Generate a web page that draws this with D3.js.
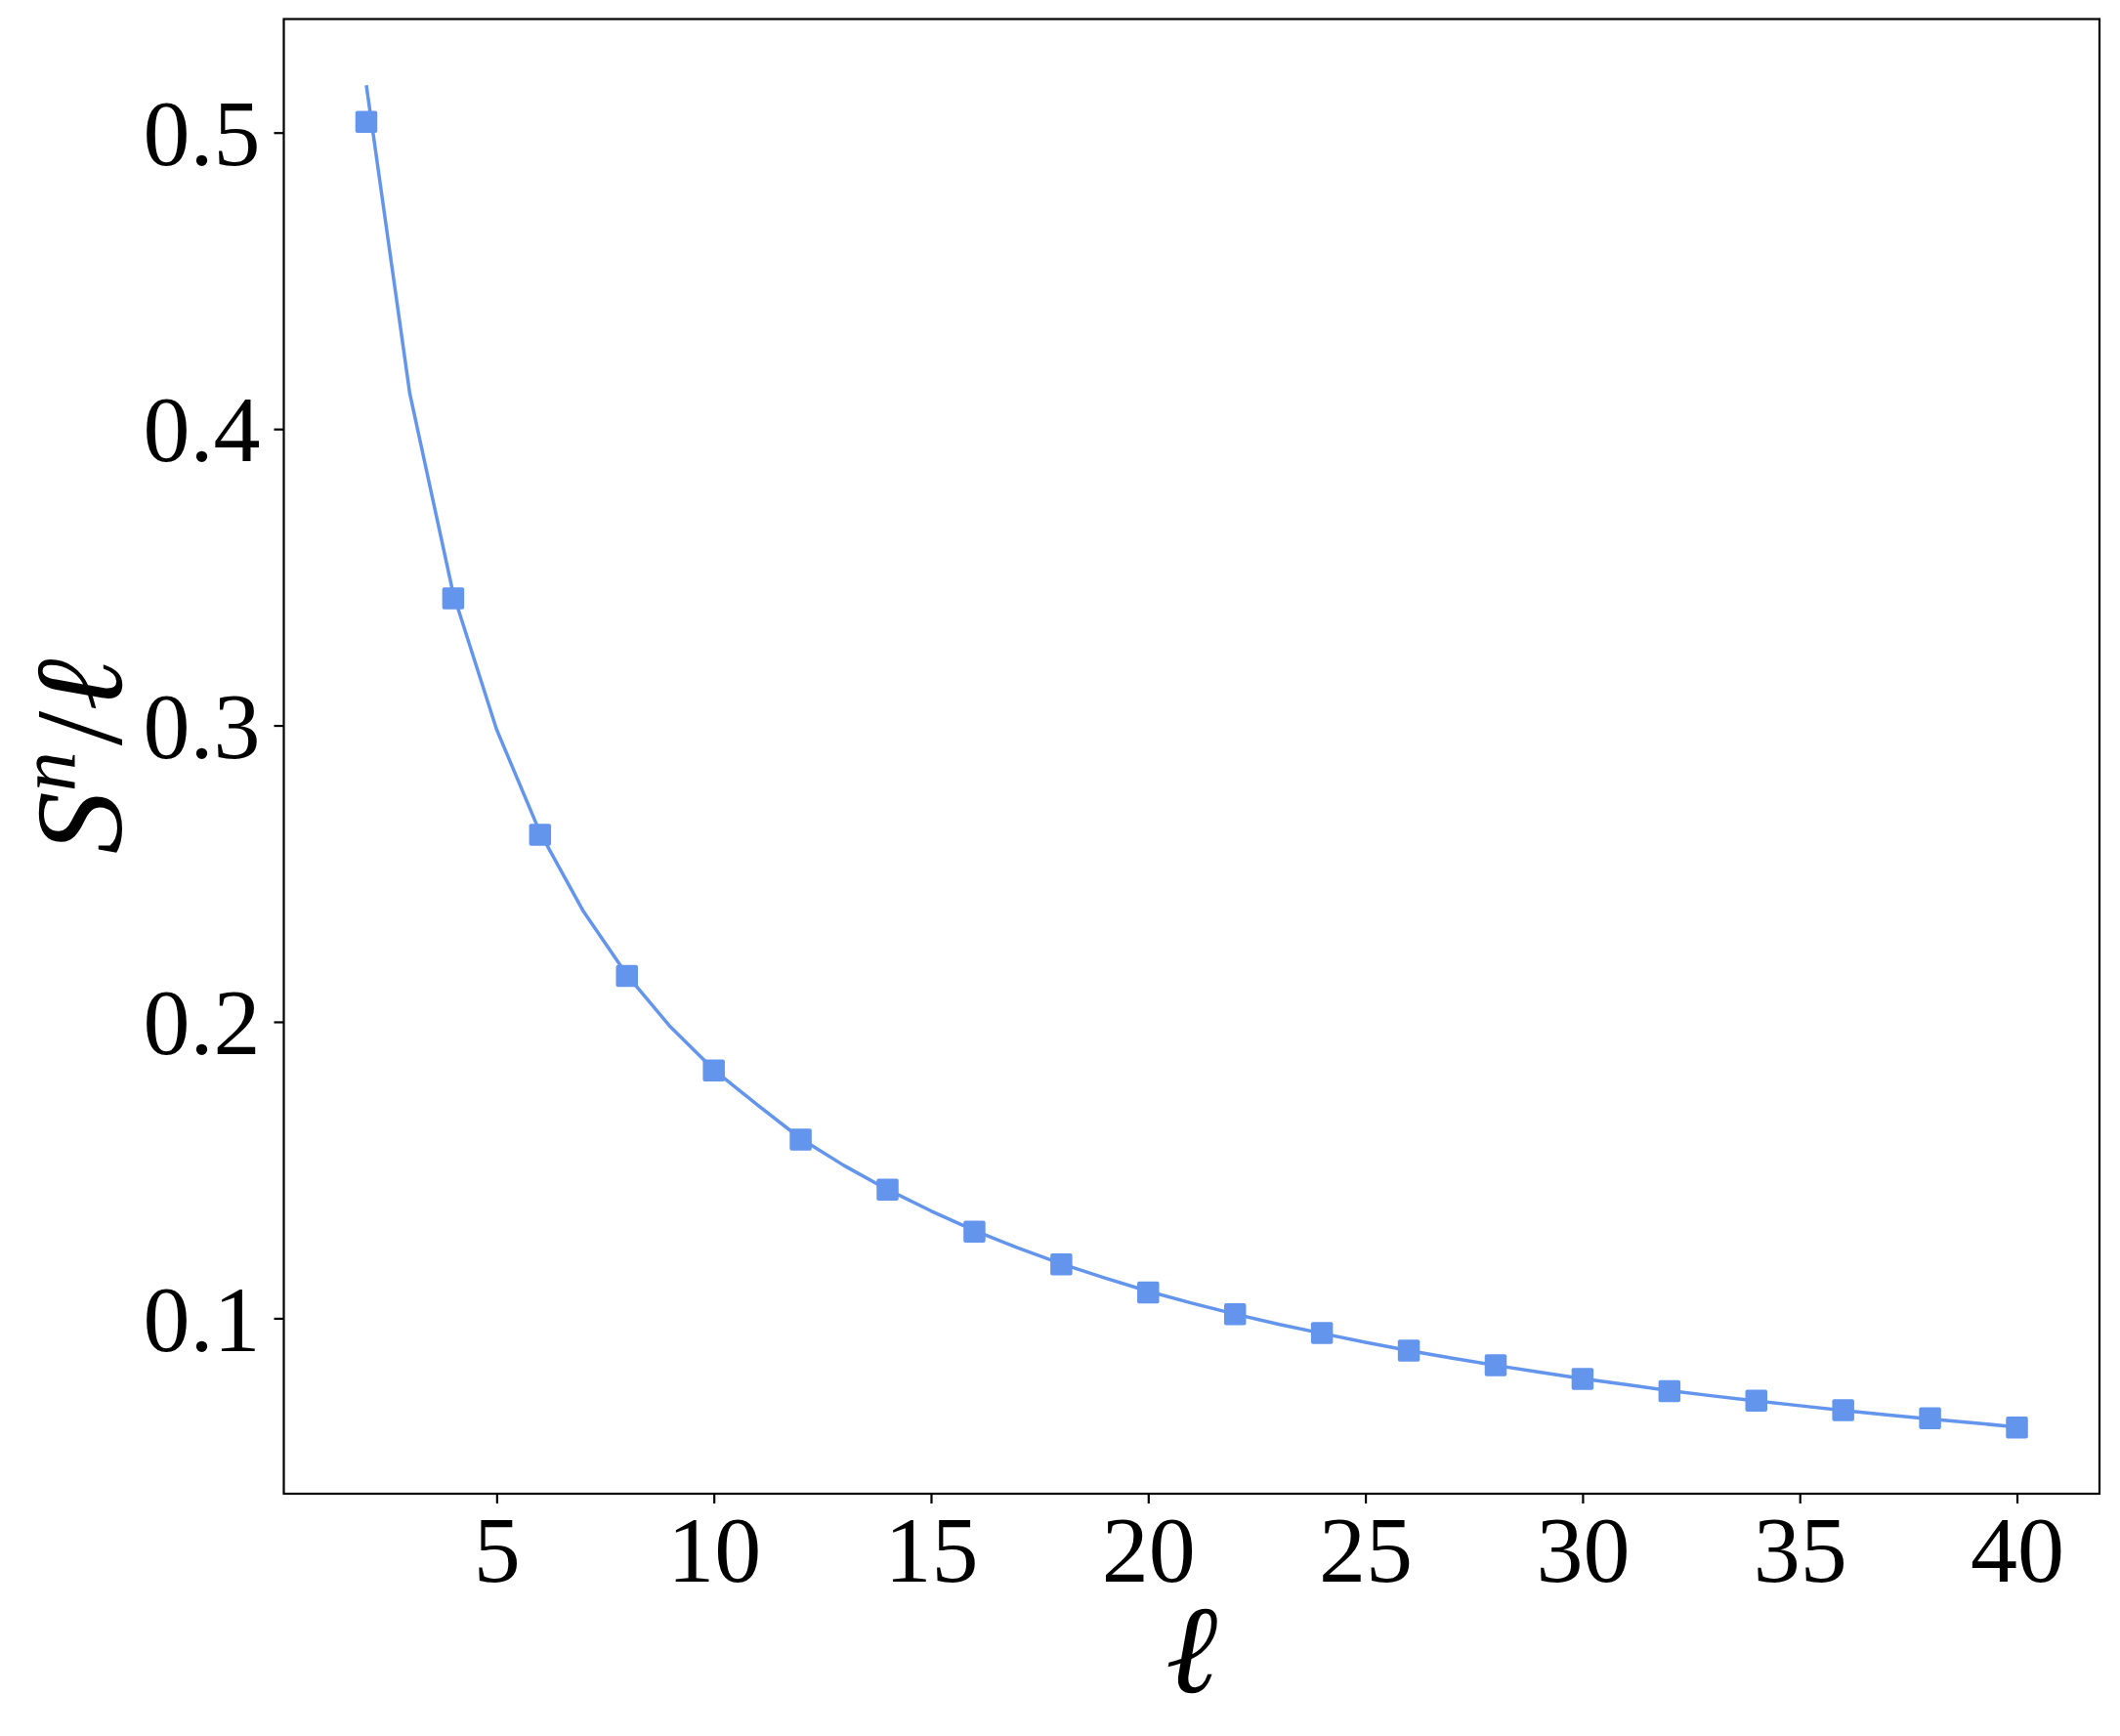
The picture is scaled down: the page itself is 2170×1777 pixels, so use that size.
<!DOCTYPE html>
<html>
<head>
<meta charset="utf-8">
<script src="https://cdn.jsdelivr.net/npm/d3@7"></script>
<style>
  body { margin: 0; background: #fff; }
  .tick text { font-family: "Liberation Serif", serif; }
</style>
</head>
<body>
<div class="container"></div>
<script>
// line: value at every integer l
var lineL = d3.range(2, 41)
var lineS = [0.516, 0.412, 0.3445, 0.2986, 0.2638, 0.2372, 0.2158, 0.1983, 0.1838,
  0.1720, 0.1606, 0.1515, 0.1434, 0.1362, 0.1296, 0.1237, 0.1184, 0.1136, 0.1091,
  0.1051, 0.1014, 0.0980, 0.0949, 0.0919, 0.0891, 0.0865, 0.0841, 0.0818, 0.0796,
  0.0776, 0.0756, 0.0738, 0.0721, 0.0705, 0.0689, 0.0674, 0.0660, 0.0647, 0.0633]

// markers at even l
var markL = [2, 4, 6, 8, 10, 12, 14, 16, 18, 20, 22, 24, 26, 28, 30, 32, 34, 36, 38, 40]
var markS = [0.5036, 0.3429, 0.2631, 0.2155, 0.1836, 0.1603, 0.1434, 0.1292, 0.1182, 0.1087,
  0.1014, 0.0950, 0.0891, 0.0841, 0.0795, 0.0754, 0.0722, 0.0690, 0.0663, 0.0631]

var xTicks = [5, 10, 15, 20, 25, 30, 35, 40]
var yTicks = [0.1, 0.2, 0.3, 0.4, 0.5]

var width = 2170, height = 1777
var margin = { top: 19.5, right: 21, bottom: 248, left: 290.5 }
var color = "#6495ED"

var svg = d3.select(".container").append("svg")
    .attr("width", width)
    .attr("height", height)

var x = d3.scaleLinear().domain([0.1, 41.9]).range([margin.left, width - margin.right])
var y = d3.scaleLinear().domain([0.0408, 0.5383]).range([height - margin.bottom, margin.top])

// ---------- AXES ----------
var xAxis = svg.append("g")
    .attr("transform", "translate(0," + (height - margin.bottom) + ")")
    .call(d3.axisBottom(x).tickValues(xTicks).tickFormat(d3.format("d")).tickSize(10).tickPadding(11))
xAxis.select(".domain").remove()
xAxis.selectAll(".tick line").attr("stroke", "#000").attr("stroke-width", 2.2)
xAxis.selectAll(".tick text").attr("font-size", 96).attr("fill", "#000").attr("dy", "0.72em")

var yAxis = svg.append("g")
    .attr("transform", "translate(" + margin.left + ",0)")
    .call(d3.axisLeft(y).tickValues(yTicks).tickFormat(d3.format(".1f")).tickSize(10).tickPadding(14))
yAxis.select(".domain").remove()
yAxis.selectAll(".tick line").attr("stroke", "#000").attr("stroke-width", 2.2)
yAxis.selectAll(".tick text").attr("font-size", 96).attr("fill", "#000").attr("dy", "0.34em")

// ---------- DATA ----------
var lineData = lineL.map(function(l, i) { return [l, lineS[i]] })
var markData = markL.map(function(l, i) { return [l, markS[i]] })

svg.append("path")
    .datum(lineData)
    .attr("fill", "none")
    .attr("stroke", color)
    .attr("stroke-width", 3.5)
    .attr("stroke-linejoin", "round")
    .attr("d", d3.line().x(function(d) { return x(d[0]) }).y(function(d) { return y(d[1]) }))

var ms = 22.5
svg.append("g").selectAll("rect")
    .data(markData)
    .enter().append("rect")
    .attr("x", function(d) { return x(d[0]) - ms / 2 })
    .attr("y", function(d) { return y(d[1]) - ms / 2 })
    .attr("width", ms)
    .attr("height", ms)
    .attr("rx", 2)
    .attr("fill", color)

// frame
svg.append("rect")
    .attr("x", margin.left)
    .attr("y", margin.top)
    .attr("width", width - margin.right - margin.left)
    .attr("height", height - margin.bottom - margin.top)
    .attr("fill", "none")
    .attr("stroke", "#000")
    .attr("stroke-width", 2.2)

// ---------- LABELS ----------
svg.append("text")
    .attr("x", (margin.left + width - margin.right) / 2)
    .attr("y", 1732)
    .attr("text-anchor", "middle")
    .attr("font-family", "Liberation Serif, serif")
    .attr("font-style", "italic")
    .attr("font-size", 128)
    .text("ℓ")

var yl = svg.append("text")
    .attr("transform", "translate(124," + ((margin.top + height - margin.bottom) / 2) + ") rotate(-90)")
    .attr("text-anchor", "middle")
    .attr("font-family", "Liberation Serif, serif")
    .attr("font-size", 128)
yl.append("tspan").attr("font-style", "italic").text("S")
yl.append("tspan").attr("font-style", "italic").attr("font-size", 82).attr("dy", -48).text("n")
yl.append("tspan").attr("dy", 48).attr("dx", 6).text("/")
yl.append("tspan").attr("font-style", "italic").text("ℓ")
</script>
</body>
</html>
